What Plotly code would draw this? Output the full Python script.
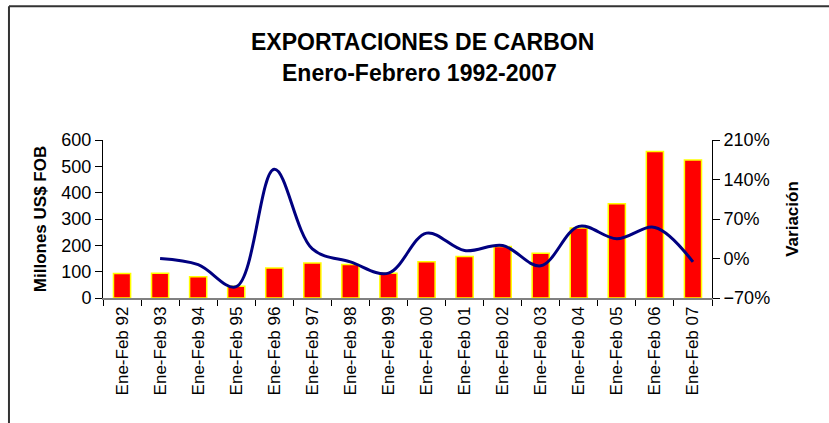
import plotly.graph_objects as go

periodos = ["Ene-Feb 92", "Ene-Feb 93", "Ene-Feb 94", "Ene-Feb 95", "Ene-Feb 96",
            "Ene-Feb 97", "Ene-Feb 98", "Ene-Feb 99", "Ene-Feb 00", "Ene-Feb 01",
            "Ene-Feb 02", "Ene-Feb 03", "Ene-Feb 04", "Ene-Feb 05", "Ene-Feb 06",
            "Ene-Feb 07"]

# millones US$ FOB
exportaciones = [93, 94, 81, 45, 114, 133, 127, 94, 138, 158,
                 196, 170, 266, 358, 556, 524]

# variacion anual (fraccion), sin dato para 1992
variacion = [None, 0.00, -0.11, -0.50, 1.58, 0.17, -0.06, -0.26, 0.45, 0.14,
             0.23, -0.13, 0.57, 0.35, 0.55, -0.06]

FONT = "Liberation Sans, Arial, sans-serif"

fig = go.Figure()

fig.add_trace(go.Bar(x=periodos, y=exportaciones,
                     marker=dict(color="#FF0000", line=dict(color="#FFFF00", width=1.5)),
                     name="Exportaciones"))

fig.add_trace(go.Scatter(x=periodos, y=variacion, yaxis="y2",
                         mode="lines",
                         line=dict(color="#000080", width=3, shape="spline", smoothing=1.0),
                         connectgaps=False,
                         name="Variación"))

fig.update_layout(
    width=829, height=423,
    margin=dict(l=103, r=117, t=140, b=125),
    plot_bgcolor="white", paper_bgcolor="white",
    showlegend=False,
    bargap=0.55,
    font=dict(family=FONT, size=18, color="black"),
    xaxis=dict(type="category", showline=True, linecolor="#808080", linewidth=1.5,
               ticks="outside", ticklen=6, tickcolor="black", tickson="boundaries",
               tickangle=-90, tickfont=dict(size=17), showgrid=False, automargin=False),
    yaxis=dict(range=[0, 600], dtick=100, showline=True, linecolor="black", linewidth=1,
               ticks="outside", ticklen=7, tickcolor="black", showgrid=False, zeroline=False,
               automargin=False,
               title=dict(text="<b>Millones US$ FOB</b>", font=dict(size=17), standoff=10)),
    yaxis2=dict(range=[-0.7, 2.1], dtick=0.7, tickformat=".0%", overlaying="y", side="right",
                showline=True, linecolor="black", linewidth=1, automargin=False,
                ticks="outside", ticklen=7, tickcolor="black", showgrid=False, zeroline=False,
                title=dict(text="<b>Variación</b>", font=dict(size=17), standoff=16)),
)

fig.add_annotation(text="<b>EXPORTACIONES DE CARBON</b>", xref="paper", yref="paper",
                   x=0.524, y=1.62, yanchor="middle", showarrow=False, font=dict(size=23))
fig.add_annotation(text="<b>Enero-Febrero 1992-2007</b>", xref="paper", yref="paper",
                   x=0.52, y=1.425, yanchor="middle", showarrow=False, font=dict(size=23))

# marco del grafico (borde superior e izquierdo)
fig.add_shape(type="line", xref="paper", yref="paper",
              x0=-0.1544, x1=1.2, y0=1.846, y1=1.846,
              line=dict(color="#333333", width=2))
fig.add_shape(type="line", xref="paper", yref="paper",
              x0=-0.1544, x1=-0.1544, y0=-0.9, y1=1.846,
              line=dict(color="#333333", width=2))

# sin margen del body para que el grafico ocupe la ventana exacta
fig.write_html("out.html", config={"displayModeBar": False},
               post_script="document.body.style.margin='0';")
